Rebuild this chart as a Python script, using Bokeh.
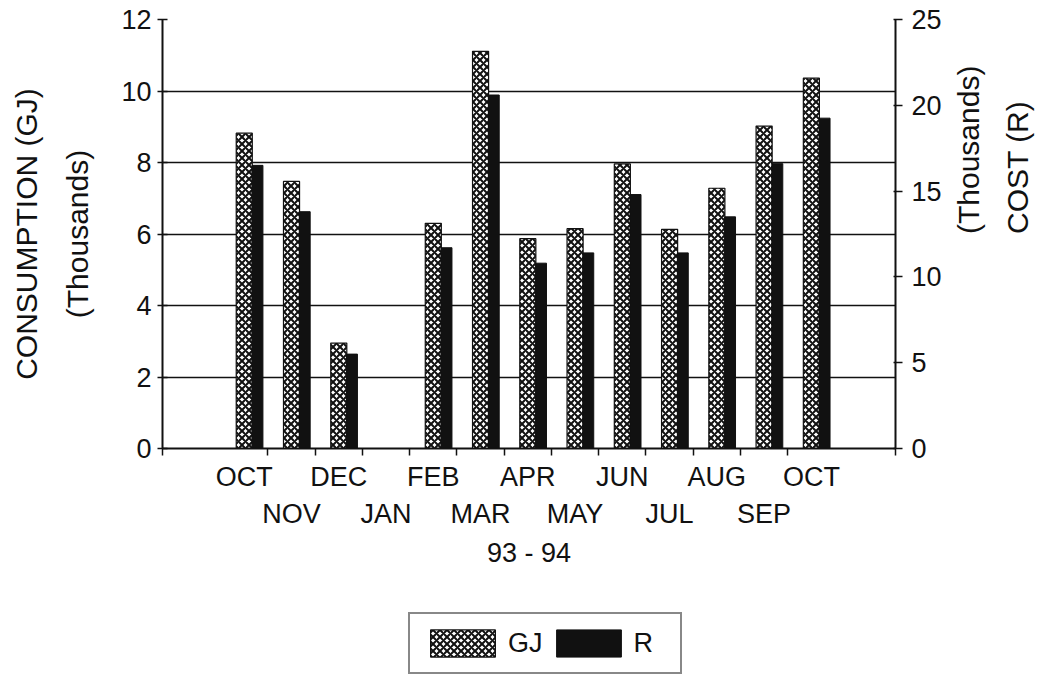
import numpy as np
from bokeh.plotting import figure
from bokeh.layouts import column
from bokeh.models import (Range1d, LinearAxis, FixedTicker, Legend, LegendItem)
from bokeh.embed import file_html
from bokeh.resources import INLINE

months = ["OCT", "NOV", "DEC", "JAN", "FEB", "MAR", "APR",
          "MAY", "JUN", "JUL", "AUG", "SEP", "OCT"]
gj_thousands = [8.82, 7.47, 2.95, 0.0, 6.30, 11.11, 5.87,
                6.15, 7.96, 6.13, 7.28, 9.02, 10.36]
cost_r_thousands = [16.5, 13.8, 5.5, 0.0, 11.7, 20.6, 10.8,
                    11.4, 14.8, 11.4, 13.5, 16.6, 19.25]
left_ticks = [0, 2, 4, 6, 8, 10, 12]
right_ticks = [0, 5, 10, 15, 20, 25]
period_label = "93 - 94"

FONT = "Liberation Sans"
FS = "27px"
TFS = "30px"
INK = "#111111"

GJ_STYLE = dict(fill_color="white", line_color=INK, line_width=1.2,
                hatch_pattern="x", hatch_color=INK, hatch_weight=2.0, hatch_scale=7.0)
R_STYLE = dict(fill_color=INK, line_color=INK, line_width=1)

idx = np.arange(len(months))
x_lo, x_hi = -1.73, 13.78

W = 1059
FRAME_L = 162
p = figure(width=W, height=580, output_backend="svg", toolbar_location=None,
           x_range=Range1d(x_lo, x_hi), y_range=Range1d(0, 12),
           min_border_left=FRAME_L, min_border_right=W - FRAME_L - 733,
           min_border_top=19, min_border_bottom=580 - 19 - 429)
p.extra_y_ranges = {"cost": Range1d(0, 25)}
p.outline_line_color = None
p.background_fill_color = "white"
p.border_fill_color = "white"

# grid
p.xgrid.visible = False
p.ygrid.ticker = FixedTicker(ticks=left_ticks[1:])
p.ygrid.grid_line_color = INK
p.ygrid.grid_line_width = 1.6

p.vbar(x=idx, top=gj_thousands, width=0.34, bottom=0, **GJ_STYLE)
p.vbar(x=idx + 0.28, top=cost_r_thousands, width=0.23, bottom=0,
       y_range_name="cost", **R_STYLE)

def style_axis(ax):
    ax.axis_line_color = INK
    ax.axis_line_width = 2
    ax.major_tick_line_color = INK
    ax.major_tick_line_width = 1.5
    ax.minor_tick_line_color = INK
    ax.minor_tick_line_width = 1.5
    ax.major_label_text_font = FONT
    ax.major_label_text_font_size = FS
    ax.major_label_text_color = INK
    ax.axis_label_text_font = FONT
    ax.axis_label_text_font_size = TFS
    ax.axis_label_text_font_style = "normal"
    ax.axis_label_text_color = INK

def title_only(ax):
    ax.axis_line_color = None
    ax.major_tick_line_color = None
    ax.minor_tick_line_color = None
    ax.major_label_text_font_size = "0px"

# left axis
la = p.yaxis[0]
style_axis(la)
la.ticker = FixedTicker(ticks=left_ticks)
la.major_tick_in = 5
la.major_tick_out = 5
la.minor_tick_out = 0
la.minor_tick_in = 0
la.major_label_standoff = 6
la.axis_label = "(Thousands)"
la.axis_label_standoff = 24

la2 = LinearAxis(axis_label="CONSUMPTION (GJ)", ticker=FixedTicker(ticks=[]))
style_axis(la2)
title_only(la2)
la2.axis_label_standoff = 16
p.add_layout(la2, "left")

# right axis
ra = LinearAxis(y_range_name="cost", ticker=FixedTicker(ticks=right_ticks))
style_axis(ra)
ra.major_tick_in = 2
ra.major_tick_out = 7
ra.minor_tick_out = 0
ra.major_label_standoff = 9
ra.axis_label = "(Thousands)"
ra.axis_label_standoff = 24
ra.axis_label_orientation = np.pi / 2
p.add_layout(ra, "right")

ra2 = LinearAxis(y_range_name="cost", axis_label="COST (R)", ticker=FixedTicker(ticks=[]))
style_axis(ra2)
title_only(ra2)
ra2.axis_label_standoff = 13
ra2.axis_label_orientation = np.pi / 2
p.add_layout(ra2, "right")

# bottom axes (two staggered rows of month labels)
boundaries = [x_lo] + [i + 0.5 for i in idx[:-1]] + [x_hi]
ba = p.xaxis[0]
style_axis(ba)
ba.ticker = FixedTicker(ticks=[int(i) for i in idx if i % 2 == 0], minor_ticks=boundaries)
ba.major_label_overrides = {int(i): months[i] for i in idx if i % 2 == 0}
ba.major_tick_in = 0
ba.major_tick_out = 0
ba.minor_tick_in = 0
ba.minor_tick_out = 7
ba.major_label_standoff = 6

ba2 = LinearAxis(ticker=FixedTicker(ticks=[int(i) for i in idx if i % 2 == 1]))
style_axis(ba2)
ba2.major_label_overrides = {int(i): months[i] for i in idx if i % 2 == 1}
ba2.axis_line_color = None
ba2.major_tick_line_color = None
ba2.minor_tick_line_color = None
ba2.major_tick_out = 0
ba2.major_tick_in = 0
ba2.major_label_standoff = 4
ba2.axis_label = period_label
ba2.axis_label_text_font_size = FS
ba2.axis_label_standoff = 6
p.add_layout(ba2, "below")

# legend strip below the chart (its bars sit outside its visible y range)
LH = 100
q = figure(width=W, height=LH, output_backend="svg", toolbar_location=None,
           x_range=Range1d(x_lo, x_hi), y_range=Range1d(100, 101),
           min_border_left=0, min_border_right=0, min_border_top=0, min_border_bottom=0)
q.axis.visible = False
q.grid.visible = False
q.outline_line_color = None
q.border_fill_color = "white"
g1 = q.vbar(x=idx, top=gj_thousands, width=0.34, **GJ_STYLE)
g2 = q.vbar(x=idx + 0.28, top=cost_r_thousands, width=0.23, **R_STYLE)

legend = Legend(items=[LegendItem(label="GJ", renderers=[g1]),
                       LegendItem(label="R", renderers=[g2])],
                orientation="horizontal", location=(408 - FRAME_L, 6))
legend.label_text_font = FONT
legend.label_text_font_size = FS
legend.label_text_color = INK
legend.glyph_width = 81
legend.glyph_height = 34
legend.label_standoff = 5
legend.spacing = 5
legend.padding = 12
legend.label_width = 34
legend.border_line_color = INK
legend.border_line_width = 2
legend.background_fill_alpha = 1
legend.margin = 0
q.add_layout(legend, "center")

open("out.html", "w").write(file_html(column(p, q, spacing=0), INLINE))
